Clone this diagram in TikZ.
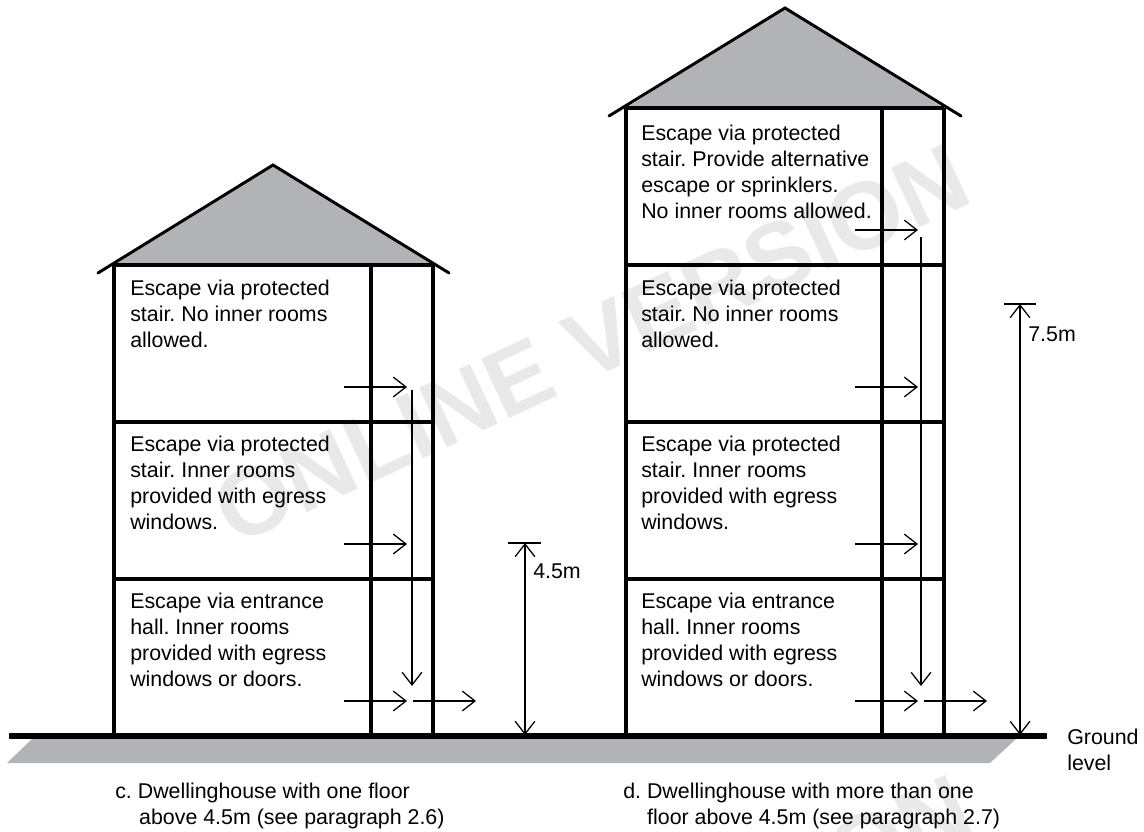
\documentclass[tikz,border=0pt]{standalone}
\usepackage{fontspec}
\setmainfont{Liberation Sans}
\usetikzlibrary{arrows.meta}
\definecolor{roofgrey}{HTML}{B1B3B6}
\definecolor{markgrey}{HTML}{E9E9EA}
\tikzset{wall/.style={black,line width=2.2pt}, floorline/.style={black,line width=2.7pt}, roofline/.style={black,line width=2.1pt,line cap=round},
 flow/.style={black,line width=0.9pt,-{Straight Barb[length=9pt,width=14pt,line width=0.9pt]}},
 every node/.style={inner sep=0pt,font=\fontsize{15.2}{18.5}\selectfont\frenchspacing},
 roomtext/.style={anchor=north west,align=left},
 stamp/.style={markgrey,font=\bfseries\fontsize{68}{68}\selectfont,rotate=25}}

\begin{document}
\begin{tikzpicture}[x=0.025cm,y=-0.025cm]
  \useasboundingbox (0,0) rectangle (1144,832);
  \begin{scope}
   \clip (0,0) rectangle (1144,832);
   \node[stamp] (stampa) at (591,344) {ONLINE VERSION};
   \node[stamp] (stampb) at (594,975) {ONLINE VERSION};
  \end{scope}
  \fill[roofgrey] (32,739) -- (1016,739) -- (990,763) -- (7,763) -- cycle;
  \begin{scope}
   \coordinate (ca) at (114,265);
   \coordinate (cb) at (371,265);
   \coordinate (cc) at (433,265);
   \coordinate (ctop) at (273,165);
   \coordinate (cl) at (98,273);
   \coordinate (cr) at (449,273);
   \fill[roofgrey] (ca) -- (ctop) -- (cc) -- cycle;
   \draw[roofline] (cl) -- (ctop) -- (cr);
   \draw[wall] (ca) -- (cc);
   \draw[wall] (ca) -- (114,736);
   \draw[wall] (cb) -- (371,736);
   \draw[wall] (cc) -- (433,736);
   \draw[floorline] (114,422) -- (433,422);
   \draw[floorline] (114,579) -- (433,579);
   \node[roomtext] (c3) at (130,280) {Escape via protected\\stair. No inner rooms\\allowed.};
   \node[roomtext] (c2) at (130,436) {Escape via protected\\stair. Inner rooms\\provided with egress\\windows.};
   \node[roomtext] (c1) at (130,593) {Escape via entrance\\hall. Inner rooms\\provided with egress\\windows or doors.};
   \draw[flow] (344,387) -- (407,387);
   \draw[flow] (344,544) -- (407,544);
   \draw[flow] (344,701) -- (407,701);
   \draw[flow] (413,701) -- (476,701);
   \draw[flow] (412,390) -- (412,686);
  \end{scope}
  \begin{scope}
   \coordinate (da) at (626,108);
   \coordinate (db) at (882,108);
   \coordinate (dc) at (944,108);
   \coordinate (dtop) at (785,8);
   \coordinate (dl) at (609,116);
   \coordinate (dr) at (961,116);
   \fill[roofgrey] (da) -- (dtop) -- (dc) -- cycle;
   \draw[roofline] (dl) -- (dtop) -- (dr);
   \draw[wall] (da) -- (dc);
   \draw[wall] (da) -- (626,736);
   \draw[wall] (db) -- (882,736);
   \draw[wall] (dc) -- (944,736);
   \draw[floorline] (626,265) -- (944,265);
   \draw[floorline] (626,422) -- (944,422);
   \draw[floorline] (626,579) -- (944,579);
   \node[roomtext] (d4) at (641,125) {Escape via protected\\stair. Provide alternative\\escape or sprinklers.\\No inner rooms allowed.};
   \node[roomtext] (d3) at (641,280) {Escape via protected\\stair. No inner rooms\\allowed.};
   \node[roomtext] (d2) at (641,436) {Escape via protected\\stair. Inner rooms\\provided with egress\\windows.};
   \node[roomtext] (d1) at (641,593) {Escape via entrance\\hall. Inner rooms\\provided with egress\\windows or doors.};
   \draw[flow] (855,230) -- (918,230);
   \draw[flow] (855,387) -- (918,387);
   \draw[flow] (855,544) -- (918,544);
   \draw[flow] (855,701) -- (918,701);
   \draw[flow] (924,701) -- (987,701);
   \draw[flow] (921,237) -- (921,686);
  \end{scope}
  \draw[black,line width=3.8pt] (9,736) -- (1047,736);
  \coordinate (fourtop) at (525,543);
  \coordinate (fourbot) at (525,735);
  \coordinate (seventop) at (1020,304);
  \coordinate (sevenbot) at (1020,735);
  \draw[flow] (fourbot) -- (fourtop);
  \draw[flow] (fourtop) -- (fourbot);
  \draw[black,line width=0.9pt] (508,543) -- (541,543);
  \draw[flow] (sevenbot) -- (seventop);
  \draw[flow] (seventop) -- (sevenbot);
  \draw[black,line width=0.9pt] (1004,304) -- (1036,304);
  \node[anchor=west] (four) at (533,571) {4.5m};
  \node[anchor=west] (seven) at (1028,334) {7.5m};
  \node[anchor=north west,align=left] (ground) at (1067,729) {Ground\\level};
  \node[anchor=north west,align=left] (capc) at (115,783) {c. Dwellinghouse with one floor\\\hspace*{17pt}above 4.5m (see paragraph 2.6)};
  \node[anchor=north west,align=left] (capd) at (623,783) {d. Dwellinghouse with more than one\\\hspace*{17pt}floor above 4.5m (see paragraph 2.7)};
\end{tikzpicture}
\end{document}
